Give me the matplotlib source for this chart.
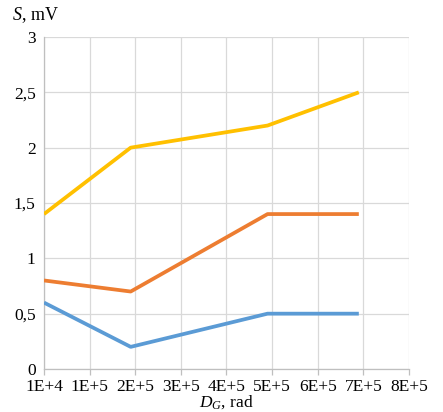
import matplotlib
matplotlib.use('Agg')
import matplotlib.pyplot as plt

# data
dose = [0, 1.9e5, 4.9e5, 6.9e5]
s_yellow = [1.4, 2.0, 2.2, 2.5]
s_orange = [0.8, 0.7, 1.4, 1.4]
s_blue = [0.6, 0.2, 0.5, 0.5]

x_ticks = [0, 1e5, 2e5, 3e5, 4e5, 5e5, 6e5, 7e5, 8e5]
x_labels = ['1E+4', '1E+5', '2E+5', '3E+5', '4E+5', '5E+5', '6E+5', '7E+5', '8E+5']
y_ticks = [0, 0.5, 1, 1.5, 2, 2.5, 3]
y_labels = ['0', '0,5', '1', '1,5', '2', '2,5', '3']

plt.rcParams['font.family'] = 'serif'
plt.rcParams['font.serif'] = ['Liberation Serif', 'DejaVu Serif']
plt.rcParams['mathtext.fontset'] = 'custom'
plt.rcParams['mathtext.it'] = 'Liberation Serif:italic'
plt.rcParams['mathtext.rm'] = 'Liberation Serif'

fig = plt.figure(figsize=(4.43, 4.12), dpi=100)
ax = fig.add_axes([44 / 443, 1 - 369 / 412, 365 / 443, 332 / 412])

ax.plot(dose, s_blue, color='#5B9BD5', lw=2.7, solid_capstyle='butt', zorder=3)
ax.plot(dose, s_orange, color='#ED7D31', lw=2.7, solid_capstyle='butt', zorder=3)
ax.plot(dose, s_yellow, color='#FFC000', lw=2.7, solid_capstyle='butt', zorder=3)

ax.set_xlim(0, 8e5)
ax.set_ylim(0, 3)
ax.set_xticks(x_ticks)
ax.set_xticklabels(x_labels)
ax.set_yticks(y_ticks)
ax.set_yticklabels(y_labels)
ax.grid(True, color='#D9D9D9', lw=0.9)
ax.set_axisbelow(True)

for side in ['top', 'right']:
    ax.spines[side].set_visible(False)
for side in ['left', 'bottom']:
    ax.spines[side].set_color('#BFBFBF')
    ax.spines[side].set_linewidth(0.9)
ax.tick_params(axis='x', colors='#BFBFBF', length=4, width=0.9, labelcolor='black',
               labelsize=12.5, pad=3)
ax.tick_params(axis='y', length=0, labelcolor='black', labelsize=12.5, pad=6)

fig.text(12 / 443, 1 - 15 / 412, r'$S$, mV', fontsize=13, va='center', ha='left')
fig.text(226 / 443, 1 - 411 / 412, r'$D_G$, rad', fontsize=12.5, va='bottom', ha='center')

fig.savefig('out.png', dpi=100)
plt.close(fig)
